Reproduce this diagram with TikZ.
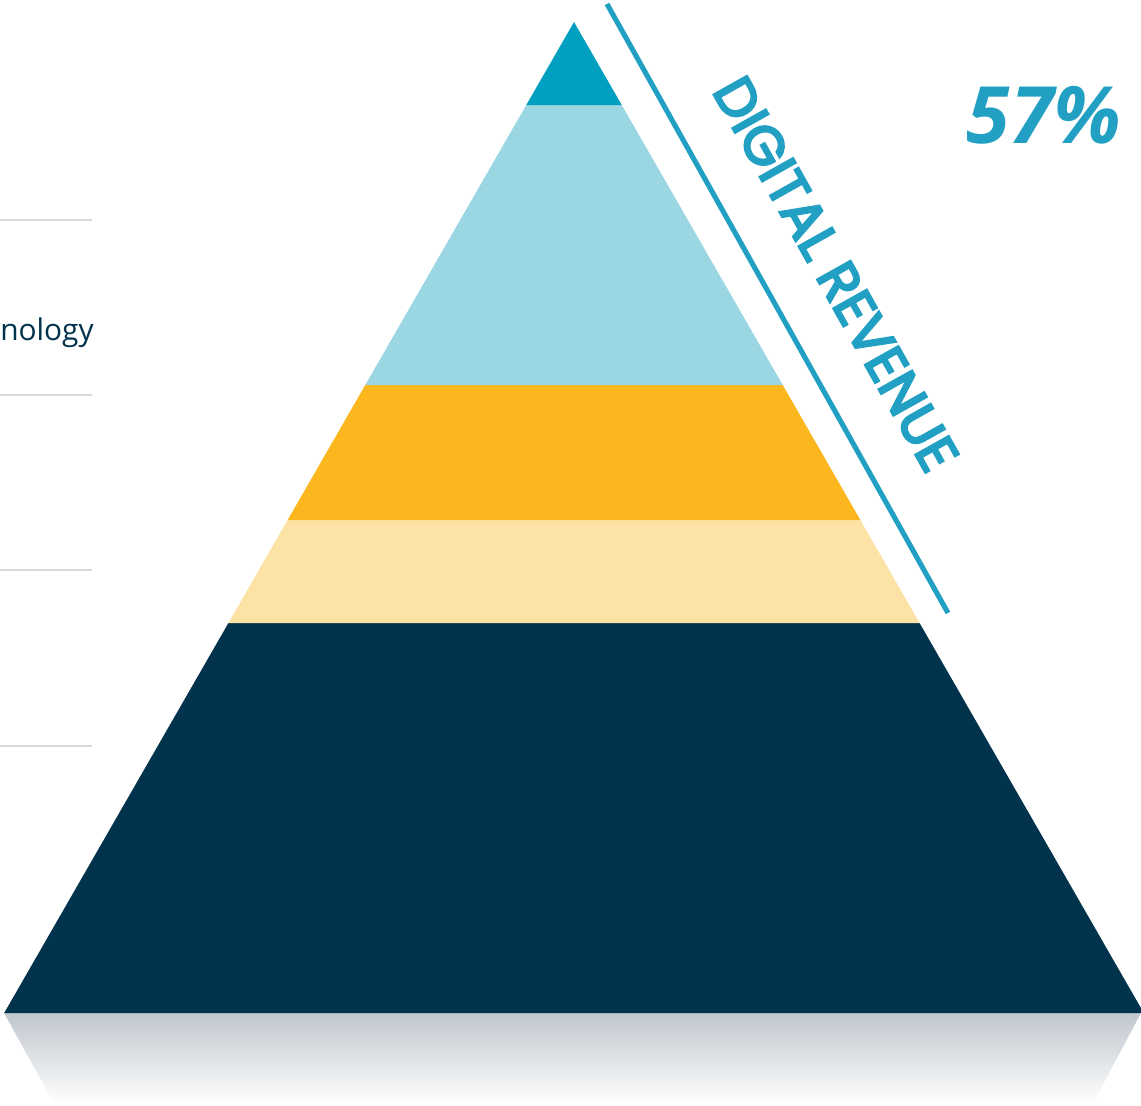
\documentclass[tikz,border=0pt]{standalone}
\usepackage{fontspec}
\setmainfont{Fira Sans}
\newfontfamily\labelfont{Open Sans}
\newfontfamily\slantfont[FakeBold=4.5]{Poppins}
\usepackage{tikz}
\definecolor{tipblue}{HTML}{019FC0}
\definecolor{skyblue}{HTML}{9BD6E3}
\definecolor{amber}{HTML}{FDB71E}
\definecolor{cream}{HTML}{FDE2A6}
\definecolor{navy}{HTML}{02334C}
\definecolor{accent}{HTML}{22A0C3}
\definecolor{rule}{HTML}{D9D9D9}
\definecolor{shadowtop}{HTML}{C0C7CE}
\newcommand{\Lx}[1]{574-0.575*(#1-22)}
\newcommand{\Rx}[1]{574+0.575*(#1-22)}

\begin{document}
\begin{tikzpicture}[x=0.02cm,y=-0.02cm,
    band/.style={draw=none},
    tick/.style={draw=rule,line width=1.6pt},
    side/.style={draw=accent,line width=2.9pt},
    slant/.style={text=accent,font=\slantfont\fontsize{31}{34}\selectfont},
    share/.style={text=accent,font=\labelfont\fontsize{45}{50}\selectfont\bfseries\itshape},
    caption/.style={text=navy,font=\labelfont\fontsize{17}{19}\selectfont}]
		\useasboundingbox (0,0) rectangle (1141,1105);

		% Reflection
		\shade[top color=shadowtop,bottom color=white]
			(4,1013) -- (1141,1013) -- (1092,1105) -- (55,1105) -- cycle;

		% Pyramid bands
		\fill[band,navy] ({\Lx{623}},623) -- ({\Rx{623}},623) -- ({\Rx{1013}},1013) -- ({\Lx{1013}},1013) -- cycle;
		\fill[band,cream] ({\Lx{520}},520) -- ({\Rx{520}},520) -- ({\Rx{623}},623) -- ({\Lx{623}},623) -- cycle;
		\fill[band,amber] ({\Lx{385}},385) -- ({\Rx{385}},385) -- ({\Rx{520}},520) -- ({\Lx{520}},520) -- cycle;
		\fill[band,skyblue] ({\Lx{105}},105) -- ({\Rx{105}},105) -- ({\Rx{385}},385) -- ({\Lx{385}},385) -- cycle;
		\fill[band,tipblue] (574,22) -- ({\Rx{105}},105) -- ({\Lx{105}},105) -- cycle;

		% Left rules
		\foreach \y in {220,395,570,746}
			\draw[tick] (0,\y) -- (92,\y);
		\node[caption,anchor=east,inner sep=0pt] (tech) at (94,333) {nology};

		% Digital revenue bracket
		\coordinate (top) at (607,4);
		\coordinate (bot) at (948,613);
		\draw[side] (top) -- (bot);
		\node[slant,rotate=-60.75] (digital) at (836,274) {DIGITAL REVENUE};
		\node[share] (pct) at (1044,115) {57\%};

	\end{tikzpicture}
\end{document}
